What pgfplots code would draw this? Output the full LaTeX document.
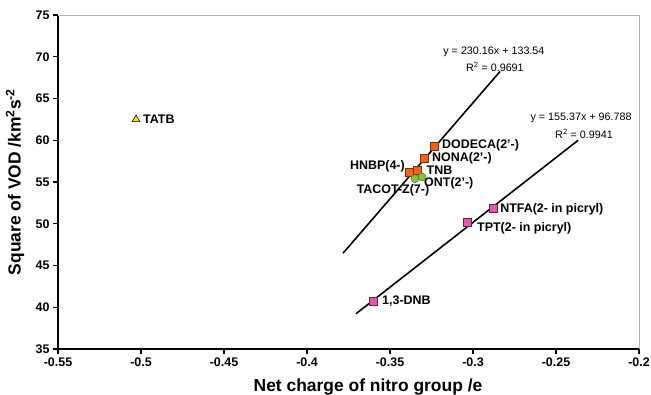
\documentclass[border=0pt]{standalone}
\usepackage{pgfplots}
\pgfplotsset{compat=1.18}
\usepackage{fontspec}
\setmainfont{Liberation Sans}
\definecolor{orsq}{HTML}{F0641E}
\definecolor{orbd}{HTML}{7A2E10}
\definecolor{grc}{HTML}{86C440}
\definecolor{grbd}{HTML}{3F7A1A}
\definecolor{pksq}{HTML}{E05AAA}
\definecolor{pkbd}{HTML}{6A1F4A}
\definecolor{ytri}{HTML}{F7DC14}
\newcommand{\lbl}{\bfseries\fontsize{12.5}{12.5}\selectfont}
\newcommand{\eqf}{\fontsize{10.8}{10.8}\selectfont}
\begin{document}
\begin{tikzpicture}
\begin{axis}[
  at={(0,0)}, anchor=south west,
  width=581bp, height=334bp, scale only axis,
  xmin=-0.55, xmax=-0.2, ymin=35, ymax=75,
  axis x line*=bottom, axis y line*=left,
  axis line style={line width=1.7bp, -},
  xtick={-0.55,-0.5,-0.45,-0.4,-0.35,-0.3,-0.25,-0.2},
  xticklabels={-0.55,-0.5,-0.45,-0.4,-0.35,-0.3,-0.25,-0.2},
  ytick={35,40,45,50,55,60,65,70,75},
  yticklabels={35,40,45,50,55,60,65,70,75},
  tick align=outside, major tick length=5bp,
  tick style={line width=1.2bp, black},
  tick label style={font=\lbl},
  clip=false,
]
\draw[gray!60, line width=0.8bp] (rel axis cs:0,1) -- (rel axis cs:1,1) -- (rel axis cs:1,0);
% trend lines
\addplot[black, line width=1.6bp, no marks] coordinates {(-0.3783,46.47) (-0.2837,68.24)};
\addplot[black, line width=1.6bp, no marks] coordinates {(-0.3705,39.22) (-0.2367,59.99)};
% orange squares
\addplot[only marks, mark=square*, mark size=4bp, mark options={fill=orsq, draw=orbd, line width=0.5bp}]
  coordinates {(-0.3235,59.3) (-0.3295,57.9) (-0.3337,56.4) (-0.3386,56.2)};
% green circles
\addplot[only marks, mark=*, mark size=4bp, mark options={fill=grc, draw=grbd, line width=0.5bp}]
  coordinates {(-0.3307,55.6) (-0.3350,55.4)};
% pink squares
\addplot[only marks, mark=square*, mark size=4bp, mark options={fill=pksq, draw=pkbd, line width=0.5bp}]
  coordinates {(-0.288,51.8) (-0.3036,50.2) (-0.3602,40.75)};
% TATB triangle
\addplot[only marks, mark=triangle*, mark size=4.5bp, mark options={fill=ytri, draw=black, line width=0.5bp}]
  coordinates {(-0.503,62.5)};
% point labels
\node[anchor=west, inner sep=0, font=\lbl] at (axis cs:-0.3187,59.43) {DODECA(2'-)};
\node[anchor=west, inner sep=0, font=\lbl] at (axis cs:-0.3247,57.87) {NONA(2'-)};
\node[anchor=west, inner sep=0, font=\lbl] at (axis cs:-0.3280,56.47) {TNB};
\node[anchor=west, inner sep=0, font=\lbl] at (axis cs:-0.3295,54.8) {ONT(2'-)};
\node[anchor=east, inner sep=0, font=\lbl] at (axis cs:-0.341,56.9) {HNBP(4-)};
\node[anchor=center, inner sep=0, font=\lbl] at (axis cs:-0.3482,53.95) {TACOT-Z(7-)};
\node[anchor=west, inner sep=0, font=\lbl] at (axis cs:-0.2837,51.77) {NTFA(2- in picryl)};
\node[anchor=west, inner sep=0, font=\lbl] at (axis cs:-0.2976,49.49) {TPT(2- in picryl)};
\node[anchor=west, inner sep=0, font=\lbl] at (axis cs:-0.3548,40.75) {1,3-DNB};
\node[anchor=west, inner sep=0, font=\lbl] at (axis cs:-0.4988,62.54) {TATB};
% equations
\node[inner sep=0, font=\eqf] at (axis cs:-0.2874,70.57) {y = 230.16x + 133.54};
\node[inner sep=0, font=\eqf] at (axis cs:-0.2868,68.77) {R\textsuperscript{2} = 0.9691};
\node[inner sep=0, font=\eqf] at (axis cs:-0.2349,62.66) {y = 155.37x + 96.788};
\node[inner sep=0, font=\eqf] at (axis cs:-0.2331,60.75) {R\textsuperscript{2} = 0.9941};
\end{axis}
\node[font=\bfseries\fontsize{17.5}{17.5}\selectfont] at (310bp,-38bp) {Net charge of nitro group /e};
\node[rotate=90, font=\bfseries\fontsize{17.5}{17.5}\selectfont] at (-43bp,167bp) {Square of VOD /km\textsuperscript{2}s\textsuperscript{-2}};
\pgfresetboundingbox
\path[use as bounding box] (-58bp,-46bp) rectangle (593bp,349bp);
\end{tikzpicture}
\end{document}
